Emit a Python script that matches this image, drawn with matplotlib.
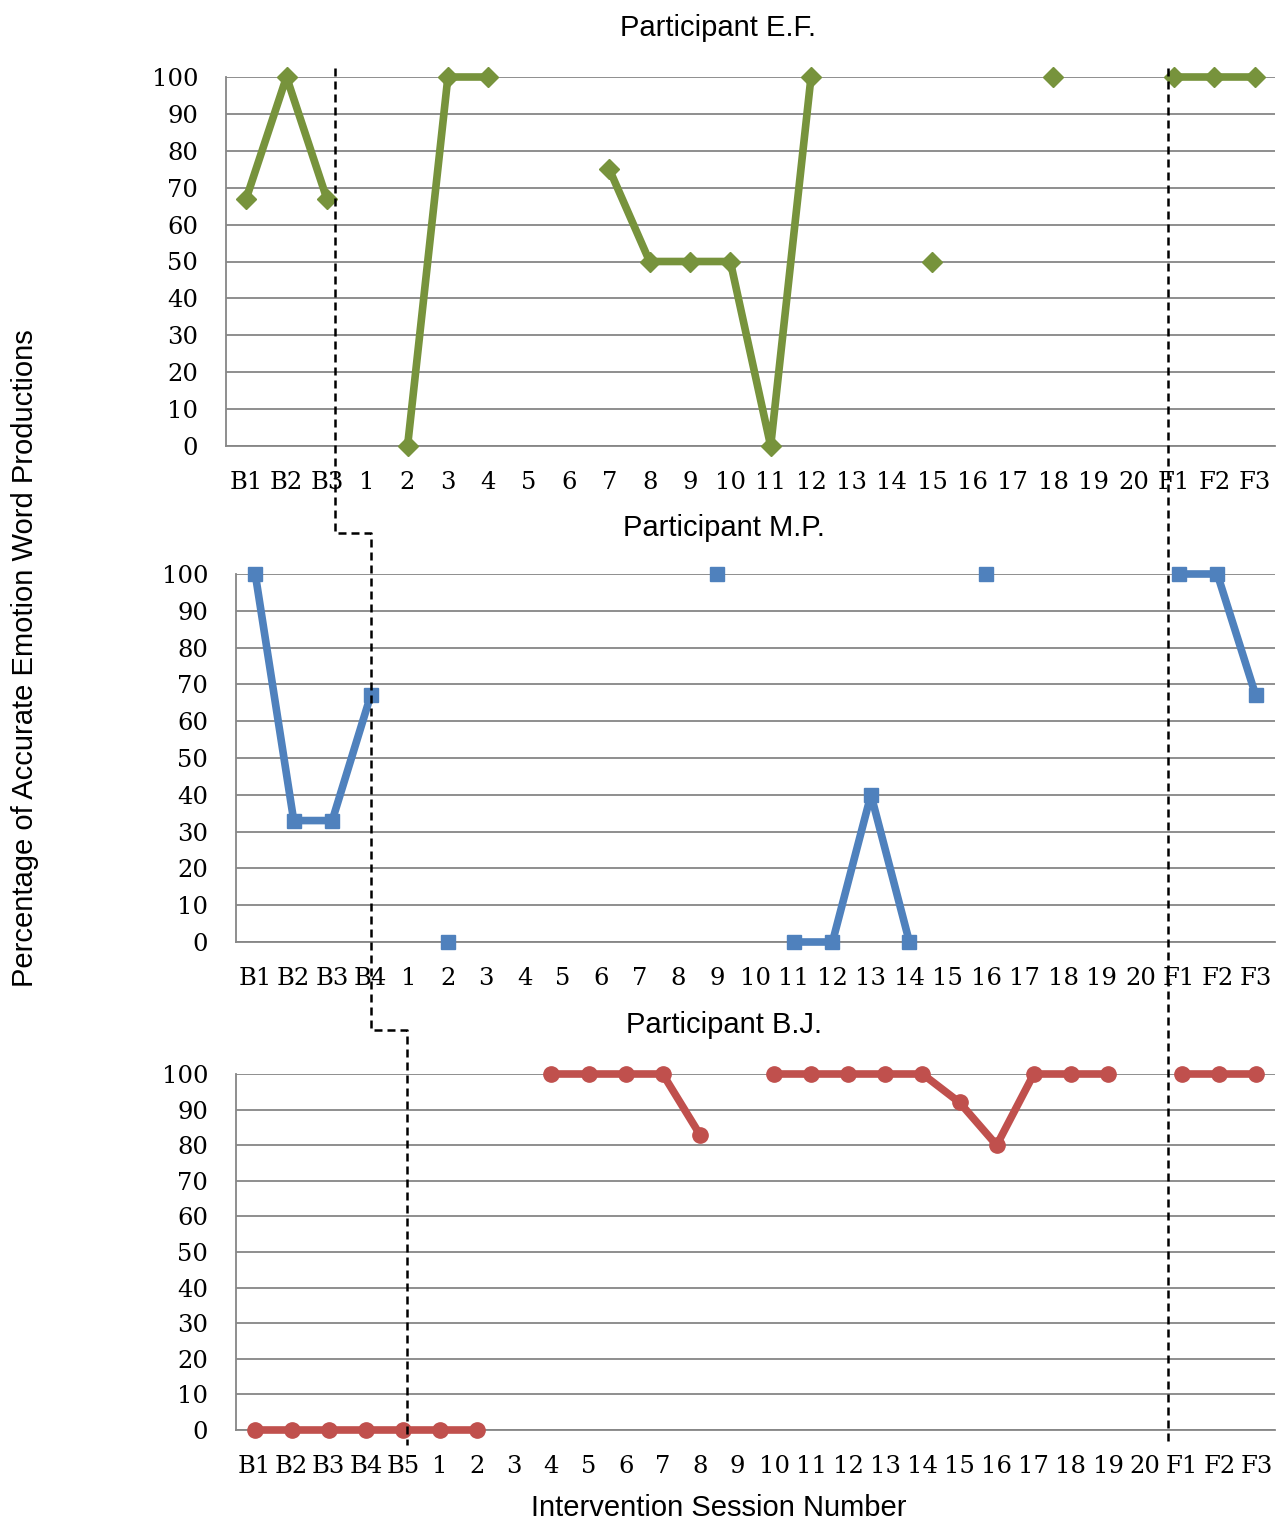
import numpy as np
import matplotlib.pyplot as plt
from matplotlib.lines import Line2D

nan = np.nan

# sessions for each participant
ef_labels = ["B1", "B2", "B3"] + [str(i) for i in range(1, 21)] + ["F1", "F2", "F3"]
mp_labels = ["B1", "B2", "B3", "B4"] + [str(i) for i in range(1, 21)] + ["F1", "F2", "F3"]
bj_labels = ["B1", "B2", "B3", "B4", "B5"] + [str(i) for i in range(1, 21)] + ["F1", "F2", "F3"]

ef_values = [67, 100, 67, nan, 0, 100, 100, nan, nan, 75, 50, 50, 50, 0, 100,
             nan, nan, 50, nan, nan, 100, nan, nan, 100, 100, 100]
mp_values = [100, 33, 33, 67, nan, 0, nan, nan, nan, nan, nan, nan, 100, nan,
             0, 0, 40, 0, nan, 100, nan, nan, nan, nan, 100, 100, 67]
bj_values = [0, 0, 0, 0, 0, 0, 0, nan, 100, 100, 100, 100, 83, nan, 100, 100,
             100, 100, 100, 92, 80, 100, 100, 100, nan, 100, 100, 100]

titles = ["Participant E.F.", "Participant M.P.", "Participant B.J."]

# phase change positions (in category units of each panel)
baseline_end = [2.2, 3.0, 4.1]
followup_start = [22.85, 23.85, 24.6]

W, H = 1277, 1524
fig = plt.figure(figsize=(W / 100, H / 100), dpi=100)

# axes boxes in pixels: left, top, right, bottom
boxes = [(226, 77, 1275, 446), (236, 574, 1275, 942), (236, 1074, 1275, 1430)]
title_pos = [(718, 28), (724, 528), (724, 1025)]

panels = [
    (ef_labels, ef_values, "#77933C", "D", 10),
    (mp_labels, mp_values, "#4F81BD", "s", 10),
    (bj_labels, bj_values, "#C0504D", "o", 11),
]

axes = []
for i, (labels, values, color, marker, ms) in enumerate(panels):
    l, t, r, b = boxes[i]
    ax = fig.add_axes([l / W, 1 - b / H, (r - l) / W, (b - t) / H])
    x = np.arange(len(labels))
    ax.plot(x, values, color=color, lw=5.5, marker=marker, ms=ms,
            markeredgecolor=color, zorder=3, clip_on=False)
    ax.set_xlim(-0.5, len(labels) - 0.5)
    ax.set_ylim(0, 100)
    ax.set_yticks(range(0, 101, 10))
    ax.set_xticks(x)
    ax.set_xticklabels(labels)
    ax.yaxis.grid(True, color="#868686", lw=1.3)
    ax.set_axisbelow(True)
    for s in ["top", "right"]:
        ax.spines[s].set_visible(False)
    for s in ["left", "bottom"]:
        ax.spines[s].set_color("#868686")
        ax.spines[s].set_linewidth(1.3)
    ax.tick_params(length=0, labelsize=17.5, pad=18)
    ax.tick_params(axis="y", pad=20)
    for lab in ax.get_xticklabels() + ax.get_yticklabels():
        lab.set_fontfamily("DejaVu Serif")
    fig.text(title_pos[i][0] / W, 1 - title_pos[i][1] / H, titles[i],
             ha="center", va="center", fontsize=21, family="Liberation Sans")
    axes.append(ax)

fig.text(25 / W, 1 - 658 / H, "Percentage of Accurate Emotion Word Productions",
         rotation=90, ha="center", va="center", fontsize=21, family="Liberation Sans")
fig.text(719 / W, 1 - 1508 / H, "Intervention Session Number",
         ha="center", va="center", fontsize=21, family="Liberation Sans")


def to_fig(ax, xv):
    px = ax.transData.transform((xv, 0))
    return fig.transFigure.inverted().transform(px)[0]


# dashed phase lines
top_y = 1 - 68 / H
bot_y = 1 - 1445 / H
step_y = [1 - 533 / H, 1 - 1030 / H]
dash = (0, (3.2, 2.0))

xs = [to_fig(axes[k], baseline_end[k]) for k in range(3)]
line_x = [xs[0], xs[0], xs[1], xs[1], xs[2], xs[2]]
line_y = [top_y, step_y[0], step_y[0], step_y[1], step_y[1], bot_y]
fig.add_artist(Line2D(line_x, line_y, color="black", lw=1.8,
                      ls=dash, transform=fig.transFigure, zorder=5))

fx = to_fig(axes[0], followup_start[0])
fig.add_artist(Line2D([fx, fx], [top_y, bot_y], color="black", lw=1.8,
                      ls=dash, transform=fig.transFigure, zorder=5))

plt.savefig("out.png", dpi=100)
